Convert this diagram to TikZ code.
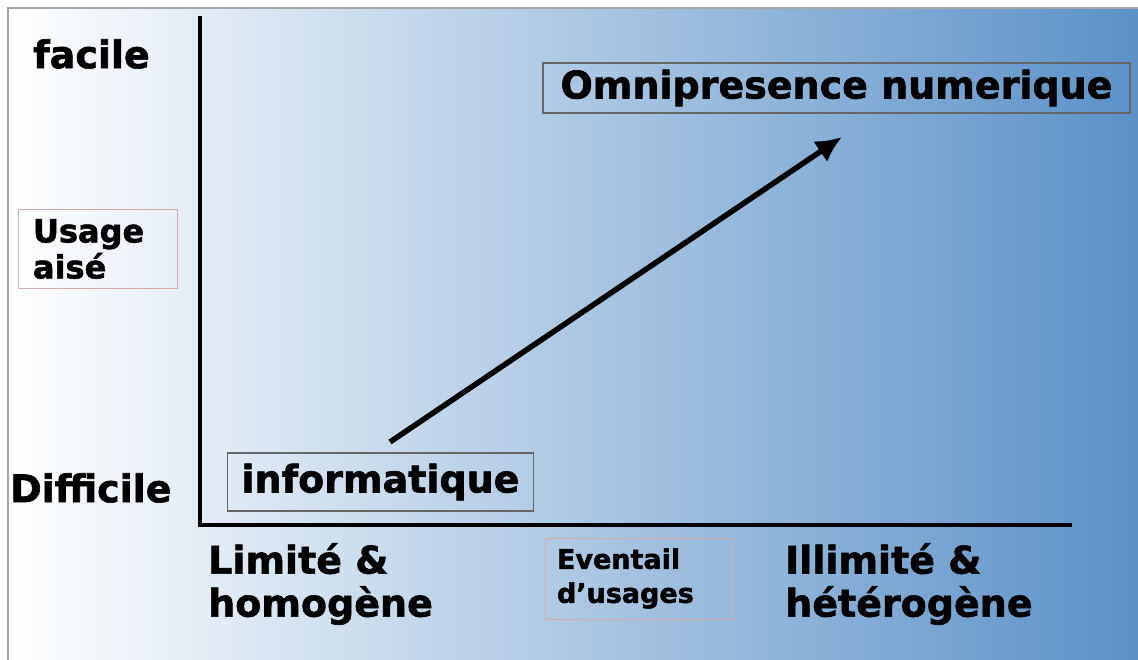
\documentclass[tikz,border=0pt]{standalone}
\usepackage{fontspec}
\setmainfont{DejaVu Sans}[BoldFeatures={FakeBold=1.6}]
\usepackage{xcolor}
\usetikzlibrary{arrows.meta,positioning}
\definecolor{bgblue}{HTML}{5B91C8}
\definecolor{pinkline}{HTML}{D9A8A8}

\begin{document}
\begin{tikzpicture}[
    x=1pt, y=-1pt,
    big/.style={font=\bfseries\fontsize{38}{43}\selectfont, inner sep=0pt, align=left},
    mid/.style={font=\bfseries\fontsize{32}{36}\selectfont, align=left},
    small/.style={font=\bfseries\fontsize{27}{34}\selectfont, align=left},
    pinkbox/.style={draw=pinkline, line width=1pt},
    greybox/.style={draw=gray!80!black, line width=1.2pt},
    axis/.style={line width=4pt},
    arrow/.style={-{Latex[length=26pt, width=25pt]}, line width=5.5pt}
]
    \useasboundingbox (0,0) rectangle (1138,660);
    % background and frame
    \shade[left color=white, right color=bgblue] (8,8) rectangle (1142,664);
    \draw[gray!70, line width=1.5pt] (8,664) -- (8,8) -- (1142,8);

    % axes
    \coordinate (origin) at (200,525);
    \coordinate (ytop) at (200,16);
    \coordinate (xend) at (1072,525);
    \draw[axis] (ytop) -- (origin) -- (xend);

    % vertical labels
    \node[big, anchor=west] (facile) at (33,54) {facile};
    \node[mid, pinkbox, text width=129pt, inner xsep=15pt, inner ysep=10pt] (aise) at (97.5,249) {Usage\\aisé};
    \node[big, anchor=west] (diff) at (10,488) {Difficile};

    % horizontal labels
    \node[big, anchor=north west] (lim) at (208,543) {Limité \&\\homogène};
    \node[small, pinkbox, text width=163pt, inner xsep=12pt, minimum height=81pt] (event) at (638.5,578.5) {Eventail\\d’usages};
    \node[big, anchor=north west] (illim) at (785,543) {Illimité \&\\hétérogène};

    % the two states
    \node[big, greybox, minimum width=306pt, minimum height=58pt] (info) at (380.5,482) {informatique};
    \node[big, greybox, minimum width=587pt, minimum height=50pt] (omni) at (836.5,88) {Omnipresence numerique};

    \coordinate (from) at (390,442);
    \coordinate (to) at (842,137);
    \draw[arrow] (from) -- (to);
\end{tikzpicture}
\end{document}
